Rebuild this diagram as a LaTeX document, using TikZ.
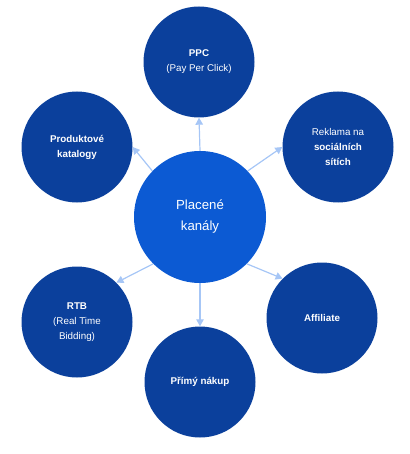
\documentclass[tikz,border=0pt]{standalone}
\usepackage{fontspec}
\setmainfont{Liberation Sans}
\usetikzlibrary{arrows.meta}
\definecolor{outerblue}{HTML}{0B409C}
\definecolor{centerblue}{HTML}{0C5AD3}
\definecolor{arrowblue}{HTML}{A6C6F6}
\begin{document}
\begin{tikzpicture}[x=1pt,y=-1pt,
  outer/.style={circle,fill=outerblue,minimum size=111pt,inner sep=0pt,text=white,align=center,font=\fontsize{9.8}{15}\selectfont},
  hub/.style={circle,fill=centerblue,minimum size=132pt,inner sep=0pt,text=white,align=center,font=\fontsize{13.2}{21}\selectfont},
  arr/.style={draw=arrowblue,line width=1.2pt,-{Triangle[length=7pt,width=7.5pt]}}]
\useasboundingbox (0,0) rectangle (409,454);
\node[hub] (c) at (200,217) {Placené\\kanály};
\node[outer] (ppc) at (199,62) {\textbf{PPC}\\(Pay Per Click)};
\node[outer] (prod) at (77,147) {\textbf{Produktové}\\\textbf{katalogy}};
\node[outer] (rek) at (338,147) {Reklama na\\\textbf{sociálních}\\\textbf{sítích}};
\node[outer] (rtb) at (77,322) {\textbf{RTB}\\(Real Time\\Bidding)};
\node[outer] (aff) at (322,318) {\textbf{Affiliate}};
\node[outer] (prim) at (200,382) {\textbf{Přímý nákup}};
\draw[arr] (c.north) -- (ppc.south);
\draw[arr] (c.136) -- (prod.0);
\draw[arr] (c.44) -- (rek.180);
\draw[arr] (c.225) -- (rtb.45);
\draw[arr] (c.-45) -- (aff.135);
\draw[arr] (c.south) -- (prim.north);
\end{tikzpicture}
\end{document}
